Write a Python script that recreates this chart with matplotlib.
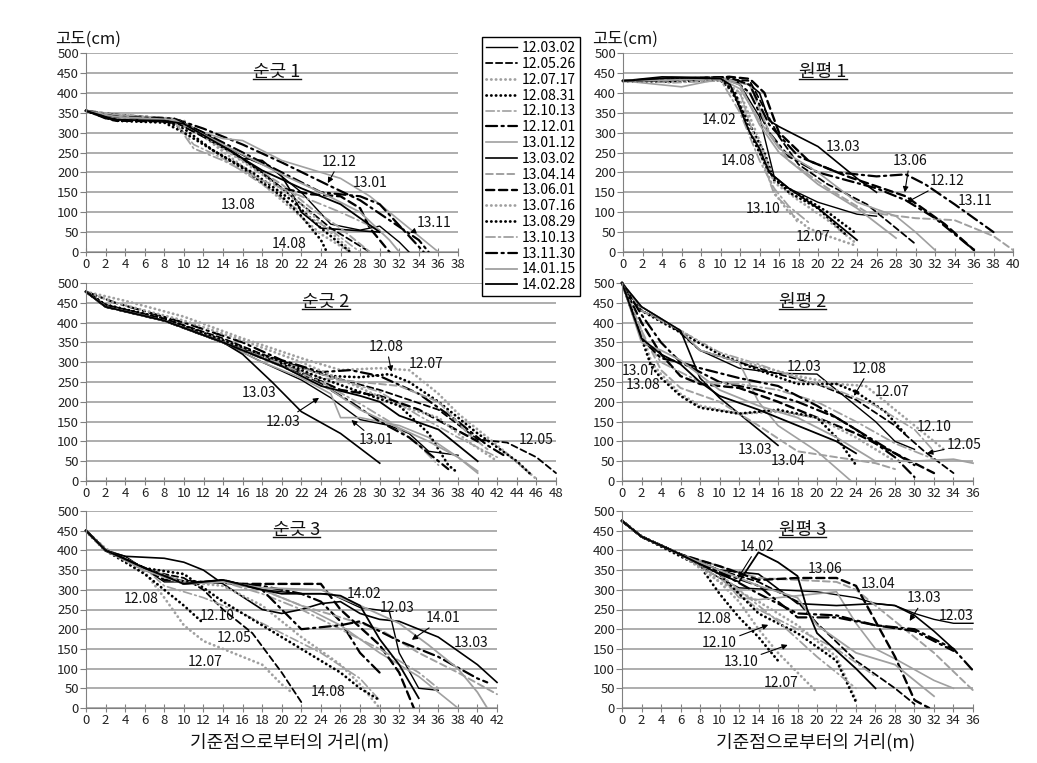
import matplotlib
matplotlib.use('Agg')
import matplotlib.pyplot as plt
from matplotlib.lines import Line2D

plt.rcParams['font.family'] = ['Noto Sans CJK KR', 'DejaVu Sans']

# 측정 날짜 (범례 순서)
DATES = ['12.03.02', '12.05.26', '12.07.17', '12.08.31', '12.10.13', '12.12.01',
         '13.01.12', '13.03.02', '13.04.14', '13.06.01', '13.07.16', '13.08.29',
         '13.10.13', '13.11.30', '14.01.15', '14.02.28']

# 순긋 1 단면 (거리 m, 고도 cm)
SG1 = [
    [(0, 355), (2, 340), (6, 338), (10, 325), (14, 270), (17, 230), (19, 210), (22, 150), (25, 70), (28, 55), (30, 65), (32, 25), (33, 0)],
    [(0, 355), (3, 335), (8, 332), (10, 320), (14, 265), (18, 200), (22, 120), (25, 60), (27, 30), (29, 0)],
    [(0, 355), (3, 342), (8, 335), (10, 330), (12, 290), (16, 215), (20, 130), (24, 45), (27, 0)],
    [(0, 355), (3, 330), (8, 328), (10, 310), (13, 255), (17, 200), (21, 130), (24, 60), (26, 20), (27, 0)],
    [(0, 355), (3, 340), (9, 330), (11, 270), (14, 235), (18, 170), (22, 100), (25, 55), (28, 0)],
    [(0, 355), (3, 345), (9, 335), (12, 310), (16, 270), (20, 225), (25, 165), (28, 130), (31, 80), (34, 30), (35, 0)],
    [(0, 355), (3, 345), (9, 335), (12, 300), (14, 285), (16, 280), (20, 230), (26, 185), (29, 140), (33, 60), (36, 0)],
    [(0, 355), (2, 335), (7, 330), (10, 320), (13, 285), (16, 235), (18, 230), (20, 190), (21, 150), (22, 100), (24, 60), (27, 55), (30, 50)],
    [(0, 355), (3, 338), (9, 328), (12, 290), (16, 230), (20, 170), (23, 110), (26, 60), (28, 20), (29, 0)],
    [(0, 355), (3, 330), (9, 328), (12, 290), (16, 235), (20, 160), (23, 145), (26, 140), (28, 110), (29, 60), (31, 0)],
    [(0, 355), (3, 345), (9, 335), (11, 310), (14, 260), (18, 195), (22, 120), (25, 50), (27, 5)],
    [(0, 355), (3, 330), (8, 325), (10, 300), (12, 270), (16, 210), (20, 140), (22, 90), (24, 30), (24.5, 5)],
    [(0, 355), (3, 338), (9, 330), (11, 260), (14, 230), (18, 180), (22, 140), (26, 100), (30, 55)],
    [(0, 355), (3, 340), (9, 335), (12, 300), (16, 250), (20, 200), (24, 150), (28, 140), (30, 120), (33, 40), (34.5, 0)],
    [(0, 355), (3, 340), (9, 332), (12, 295), (16, 245), (20, 195), (24, 150), (28, 100), (31, 30), (32, 0)],
    [(0, 355), (3, 332), (8, 330), (10, 322), (14, 265), (18, 205), (22, 160), (26, 120), (30, 50)],
]

# 원평 1 단면
WP1 = [
    [(0, 430), (4, 435), (10, 438), (12, 420), (14, 340), (15.5, 190), (17, 160), (20, 125), (24, 95), (26, 90)],
    [(0, 430), (4, 430), (10, 435), (13, 430), (14.5, 360), (16, 290), (18, 220), (21, 170), (25, 120), (28, 60), (30, 20)],
    [(0, 430), (5, 430), (10, 432), (12, 380), (14, 260), (15.5, 150), (17, 100), (19, 60), (21, 40), (24, 15)],
    [(0, 430), (5, 428), (10, 432), (11, 410), (13, 320), (14.5, 250), (15.5, 180), (18, 145), (21, 100), (24, 45)],
    [(0, 432), (5, 425), (10, 430), (12, 400), (14, 250), (15.5, 145), (17, 110), (18, 70)],
    [(0, 430), (5, 435), (11, 440), (13, 400), (15, 300), (17, 240), (20, 200), (26, 160), (29, 130), (32, 85), (36, 5)],
    [(0, 430), (4, 420), (6, 415), (10, 435), (12, 410), (14, 330), (16, 260), (20, 200), (24, 125), (28, 90), (30, 50), (32, 5)],
    [(0, 430), (4, 440), (10, 438), (13, 420), (14, 400), (15, 330), (16, 315), (20, 265), (24, 185), (26, 150)],
    [(0, 428), (5, 432), (10, 438), (13, 420), (15, 300), (17, 230), (21, 160), (25, 100), (30, 85), (34, 80), (38, 40), (40, 5)],
    [(0, 430), (5, 435), (11, 440), (13, 435), (14.5, 400), (16, 300), (19, 230), (23, 190), (26, 165), (29, 140), (33, 70), (36, 5)],
    [(0, 430), (5, 432), (10, 435), (12, 400), (14, 280), (15.5, 175), (18, 130), (21, 80), (24, 20)],
    [(0, 430), (5, 430), (10, 435), (11.5, 400), (13, 300), (14, 250), (15, 200), (17, 150), (20, 110), (23, 40)],
    [(0, 432), (5, 430), (10, 433), (12, 350), (14, 230), (15.5, 160), (17, 115), (19, 75)],
    [(0, 430), (5, 432), (11, 438), (13, 420), (15, 320), (18, 240), (22, 200), (26, 190), (29, 195), (31, 170), (34, 120), (38, 50)],
    [(0, 430), (5, 432), (10, 436), (12, 420), (14, 320), (16, 250), (20, 170), (24, 110), (28, 35)],
    [(0, 430), (5, 438), (10, 436), (11, 420), (13, 300), (14, 260), (15, 200), (17, 160), (20, 110), (22, 70), (24, 30)],
]

# 순긋 2 단면
SG2 = [
    [(0, 478), (2, 440), (8, 405), (14, 350), (18, 300), (22, 255), (25, 210), (28, 155), (31, 140), (33, 120), (35, 75), (38, 65)],
    [(0, 478), (2, 445), (8, 410), (14, 360), (18, 320), (24, 270), (30, 230), (36, 180), (40, 105), (43, 97), (46, 60), (48, 20)],
    [(0, 478), (4, 455), (10, 415), (16, 360), (22, 310), (26, 280), (30, 285), (33, 280), (36, 220), (38, 170), (42, 90), (46, 5)],
    [(0, 478), (2, 445), (8, 410), (14, 355), (20, 300), (25, 265), (28, 262), (31, 270), (33, 250), (36, 200), (40, 120), (44, 50), (45.5, 15)],
    [(0, 478), (2, 440), (8, 405), (14, 350), (20, 300), (26, 255), (30, 225), (34, 165), (38, 110), (42, 60)],
    [(0, 478), (3, 450), (10, 400), (16, 350), (20, 305), (24, 275), (27, 280), (30, 265), (34, 220), (38, 150), (41, 90), (43, 60)],
    [(0, 478), (2, 440), (8, 405), (14, 350), (18, 300), (22, 260), (25, 220), (26, 160), (28, 160), (32, 140), (35, 110), (38, 60), (40, 25)],
    [(0, 478), (2, 440), (8, 405), (14, 350), (16, 320), (19, 250), (22, 175), (26, 120), (30, 45)],
    [(0, 478), (2, 442), (8, 405), (14, 355), (20, 295), (24, 260), (28, 250), (32, 240), (36, 200), (39, 120), (41, 80)],
    [(0, 478), (2, 440), (8, 405), (14, 350), (20, 295), (26, 230), (30, 215), (34, 180), (37, 140), (40, 100)],
    [(0, 478), (3, 450), (10, 405), (16, 355), (22, 300), (28, 235), (32, 190), (36, 160), (39, 100), (42, 50)],
    [(0, 478), (2, 445), (8, 410), (14, 355), (20, 300), (24, 260), (28, 225), (32, 190), (35, 120), (37, 40), (38, 20)],
    [(0, 478), (2, 440), (8, 405), (14, 350), (20, 295), (24, 250), (28, 195), (31, 150), (34, 90), (36, 40)],
    [(0, 478), (2, 440), (8, 405), (14, 350), (20, 290), (24, 245), (27, 200), (30, 150), (33, 110), (35, 70), (37, 30)],
    [(0, 478), (2, 440), (8, 405), (14, 350), (20, 290), (25, 230), (28, 180), (31, 145), (35, 100), (38, 60), (40, 20)],
    [(0, 478), (2, 440), (8, 405), (14, 350), (20, 290), (24, 240), (28, 215), (30, 200), (32, 165), (36, 130), (40, 50)],
]

# 원평 2 단면
WP2 = [
    [(0, 500), (2, 440), (4, 410), (6, 375), (8, 330), (12, 285), (16, 272), (20, 270), (22, 230), (26, 150), (28, 100), (30, 80)],
    [(0, 500), (2, 430), (5, 395), (8, 330), (12, 300), (16, 270), (20, 245), (24, 205), (28, 140), (31, 75), (34, 20)],
    [(0, 500), (2, 430), (6, 380), (10, 320), (14, 290), (18, 265), (22, 245), (25, 240), (27, 200), (30, 140), (33, 80)],
    [(0, 500), (2, 430), (6, 375), (10, 320), (14, 280), (18, 245), (22, 245), (24, 225), (27, 175), (29, 120)],
    [(0, 500), (2, 430), (6, 380), (10, 325), (14, 295), (18, 260), (22, 230), (26, 190), (30, 130), (32, 75)],
    [(0, 500), (2, 420), (4, 350), (6, 300), (10, 250), (14, 230), (18, 200), (22, 160), (26, 100), (30, 40)],
    [(0, 500), (2, 440), (6, 380), (8, 330), (12, 300), (13, 250), (14, 200), (16, 140), (20, 75), (23.5, 0)],
    [(0, 500), (2, 440), (4, 410), (6, 380), (7, 320), (8, 260), (10, 210), (12, 170), (14, 130), (16, 90)],
    [(0, 500), (2, 380), (4, 280), (6, 235), (10, 200), (14, 140), (18, 75), (22, 60), (26, 45), (28, 30)],
    [(0, 500), (2, 400), (4, 320), (6, 265), (8, 245), (12, 235), (16, 200), (20, 160), (24, 120), (28, 70), (32, 20)],
    [(0, 500), (2, 380), (3, 300), (4, 270), (6, 220), (8, 190), (12, 170), (16, 175), (20, 160), (24, 110), (28, 50)],
    [(0, 500), (2, 360), (3, 290), (4, 260), (6, 215), (8, 185), (12, 170), (16, 180), (20, 160), (22, 110), (24, 40)],
    [(0, 500), (2, 370), (4, 300), (8, 250), (12, 245), (16, 230), (20, 200), (24, 150), (28, 95), (32, 55)],
    [(0, 500), (2, 360), (4, 310), (6, 300), (8, 285), (12, 260), (16, 240), (20, 190), (24, 130), (28, 60), (30, 10)],
    [(0, 500), (2, 350), (4, 330), (6, 305), (10, 230), (14, 190), (18, 160), (22, 110), (26, 50), (30, 50), (34, 55), (36, 45)],
    [(0, 500), (2, 360), (4, 320), (6, 295), (8, 250), (10, 215), (14, 180), (18, 140), (22, 100), (24, 70)],
]

# 순긋 3 단면
SG3 = [
    [(0, 450), (2, 400), (4, 385), (8, 320), (12, 320), (14, 325), (18, 300), (22, 290), (25, 290), (28, 255), (31, 245), (32, 140), (34, 50), (36, 45)],
    [(0, 450), (2, 400), (6, 350), (10, 330), (12, 300), (14, 250), (17, 190), (20, 90), (22, 15)],
    [(0, 450), (2, 405), (6, 345), (8, 280), (10, 210), (12, 170), (16, 130), (18, 110), (20, 60), (21, 40)],
    [(0, 450), (2, 400), (6, 340), (8, 300), (10, 260), (12, 215)],
    [(0, 450), (2, 405), (6, 355), (8, 310), (12, 280), (16, 240), (20, 190), (24, 140), (28, 75), (30, 20)],
    [(0, 450), (2, 400), (6, 355), (10, 320), (14, 320), (18, 310), (22, 290), (24, 270), (26, 220), (28, 140), (30, 90)],
    [(0, 450), (2, 400), (6, 355), (10, 315), (14, 320), (18, 300), (22, 260), (26, 210), (30, 140), (34, 80), (38, 0)],
    [(0, 450), (2, 400), (4, 385), (8, 380), (10, 370), (12, 350), (14, 315), (18, 250), (20, 240), (22, 250), (24, 265), (26, 270), (28, 240), (30, 225), (32, 220), (36, 180), (40, 110), (42, 65)],
    [(0, 450), (2, 400), (6, 355), (10, 320), (14, 320), (18, 300), (22, 260), (26, 230), (30, 200), (34, 140), (38, 90), (42, 35)],
    [(0, 450), (2, 400), (6, 355), (8, 325), (12, 320), (16, 315), (20, 315), (24, 315), (26, 250), (30, 160), (32, 90), (33.5, 0)],
    [(0, 450), (2, 400), (6, 350), (10, 320), (14, 310), (18, 260), (22, 180), (26, 110), (28, 60), (30, 0)],
    [(0, 450), (2, 400), (6, 355), (10, 340), (14, 270), (18, 210), (22, 150), (26, 90), (28, 50), (30, 20)],
    [(0, 450), (2, 400), (6, 350), (10, 315), (14, 320), (18, 290), (22, 250), (26, 200), (30, 150), (34, 90), (36, 50)],
    [(0, 450), (2, 400), (6, 355), (10, 315), (14, 325), (18, 300), (22, 200), (26, 210), (28, 220), (32, 170), (36, 130), (40, 75), (41, 65)],
    [(0, 450), (2, 400), (6, 350), (10, 315), (14, 320), (18, 305), (24, 300), (28, 260), (32, 215), (35, 160), (38, 100), (40, 40), (41, 0)],
    [(0, 450), (2, 400), (6, 355), (10, 315), (14, 325), (18, 300), (20, 290), (24, 290), (26, 285), (28, 260), (30, 175), (32, 110), (34, 25)],
]

# 원평 3 단면
WP3 = [
    [(0, 475), (2, 435), (6, 390), (10, 330), (12, 305), (16, 300), (20, 295), (24, 280), (26, 265), (28, 260), (30, 240), (32, 225), (34, 215), (36, 215)],
    [(0, 475), (2, 435), (6, 390), (10, 350), (14, 320), (18, 270), (20, 215), (24, 120), (28, 50), (30, 10)],
    [(0, 475), (2, 435), (6, 390), (8, 360), (10, 320), (12, 270), (14, 200), (16, 140), (18, 90), (20, 40)],
    [(0, 475), (2, 435), (6, 385), (8, 360), (10, 290), (12, 230), (14, 180), (16, 120)],
    [(0, 475), (2, 435), (6, 390), (10, 330), (14, 250), (18, 200), (22, 150), (26, 80)],
    [(0, 475), (2, 435), (6, 390), (10, 345), (14, 290), (18, 240), (22, 235), (26, 210), (30, 200), (34, 150), (36, 95)],
    [(0, 475), (2, 435), (6, 390), (10, 340), (12, 280), (14, 275), (18, 285), (22, 295), (24, 215), (26, 150), (28, 125), (32, 70), (34, 50)],
    [(0, 475), (2, 435), (6, 390), (10, 350), (14, 340), (18, 265), (22, 260), (26, 265), (28, 260), (30, 235), (32, 195), (34, 150)],
    [(0, 475), (2, 435), (6, 390), (10, 360), (14, 330), (18, 325), (22, 320), (24, 300), (28, 220), (32, 140), (36, 45)],
    [(0, 475), (2, 435), (6, 390), (10, 360), (14, 325), (18, 330), (22, 330), (24, 310), (26, 220), (28, 130), (30, 20), (31.5, 0)],
    [(0, 475), (2, 435), (6, 390), (10, 320), (14, 270), (18, 210), (22, 130), (24, 20)],
    [(0, 475), (2, 435), (6, 390), (10, 340), (14, 240), (18, 190), (22, 120), (24, 15)],
    [(0, 475), (2, 435), (6, 390), (10, 340), (14, 260), (16, 220), (20, 130), (24, 50)],
    [(0, 475), (2, 435), (6, 390), (10, 345), (14, 310), (18, 230), (22, 230), (26, 210), (30, 195), (34, 145)],
    [(0, 475), (2, 435), (6, 390), (10, 350), (14, 310), (18, 280), (20, 210), (24, 140), (28, 110), (32, 30)],
    [(0, 475), (2, 435), (6, 390), (10, 340), (12, 320), (14, 395), (16, 370), (18, 335), (19, 250), (20, 190), (24, 100), (26, 50)],
]

# 라벨 (텍스트, 글자 x, 글자 y, 화살표 x, 화살표 y)
SG1_NOTES = [('12.12', 25.9, 226, 24.7, 173), ('13.01', 29, 173, None, None),
             ('13.08', 15.5, 118, None, None), ('13.11', 35.6, 73, 33.1, 48),
             ('14.08', 20.8, 20, None, None)]
WP1_NOTES = [('14.02', 9.9, 332, None, None), ('13.03', 22.6, 265, None, None),
             ('14.08', 11.8, 228, None, None), ('13.06', 29.4, 228, 28.9, 150),
             ('12.12', 33.2, 178, 29.1, 125), ('13.11', 36.1, 128, None, None),
             ('13.10', 14.4, 107, None, None), ('12.07', 19.5, 37, None, None)]
SG2_NOTES = [('12.08', 30.7, 338, 31.2, 276), ('12.07', 34.7, 295, None, None),
             ('13.03', 17.7, 223, None, None), ('12.03', 20.1, 150, 23.8, 210),
             ('13.01', 29.6, 103, 27.1, 154), ('12.05', 46, 103, None, None)]
WP2_NOTES = [('13.07', 1.7, 277, None, None), ('13.08', 2.2, 243, None, None),
             ('12.03', 18.7, 289, None, None), ('12.08', 25.4, 283, 23.8, 215),
             ('12.07', 27.7, 224, None, None), ('12.10', 32, 136, None, None),
             ('12.05', 35.1, 91, 31.3, 70), ('13.03', 13.6, 78, None, None),
             ('13.04', 17, 51, None, None)]
SG3_NOTES = [('12.08', 5.6, 276, None, None), ('12.10', 13.4, 234, None, None),
             ('12.05', 15.1, 177, None, None), ('12.07', 12.2, 118, None, None),
             ('14.08', 24.7, 40, None, None), ('14.02', 28.4, 289, None, None),
             ('12.03', 31.8, 253, None, None), ('14.01', 36.5, 228, 33.3, 173),
             ('13.03', 39.3, 164, None, None)]
WP3_NOTES = [('14.02', 13.9, 409, 11.9, 330), ('13.06', 20.8, 353, None, None),
             ('13.04', 26.3, 314, None, None), ('13.03', 31, 278, 29.5, 221),
             ('12.03', 34.3, 234, None, None), ('12.08', 9.5, 226, None, None),
             ('12.10', 10, 164, 15, 211), ('13.10', 12.2, 118, 17, 160),
             ('12.07', 16.3, 63, None, None)]

GRAY = '#a0a0a0'
DOT = (0, (0.1, 1.6))
DASH = (0, (3.5, 2))
DASHDOT = (0, (5, 2, 1, 2))
# (색, 선종류, 굵기) 범례 순서
STYLES = [('black', '-', 1.0), ('black', DASH, 1.3), (GRAY, DOT, 2.0), ('black', DOT, 2.0),
          (GRAY, DASHDOT, 1.2), ('black', DASHDOT, 1.6), (GRAY, '-', 1.2), ('black', '-', 1.2),
          (GRAY, DASH, 1.4), ('black', DASH, 1.7), (GRAY, DOT, 2.0), ('black', DOT, 2.0),
          (GRAY, DASHDOT, 1.3), ('black', DASHDOT, 1.6), (GRAY, '-', 1.3), ('black', '-', 1.3)]

W, H = 1037, 763
fig = plt.figure(figsize=(W / 100, H / 100), dpi=100)
fig.patch.set_facecolor('white')

# (이름, 데이터, 라벨, x최대, 좌, 우, 상, 하 픽셀)
panels = [
    ('순긋 1', SG1, SG1_NOTES, 38, 86, 458, 53, 252),
    ('원평 1', WP1, WP1_NOTES, 40, 623, 1013, 53, 252),
    ('순긋 2', SG2, SG2_NOTES, 48, 86, 556, 283, 481),
    ('원평 2', WP2, WP2_NOTES, 36, 622, 973, 283, 481),
    ('순긋 3', SG3, SG3_NOTES, 42, 86, 497, 511, 708),
    ('원평 3', WP3, WP3_NOTES, 36, 622, 973, 511, 708),
]

titles = []
handles = []
for name, profiles, notes, xmax, l, r, t, b in panels:
    ax = fig.add_axes([l / W, 1 - b / H, (r - l) / W, (b - t) / H])
    ax.set_xlim(0, xmax)
    ax.set_ylim(0, 500)
    ax.set_xticks(range(0, xmax + 1, 2))
    ax.set_yticks(range(0, 501, 50))
    ax.yaxis.grid(True, color=GRAY, lw=1.2)
    ax.set_axisbelow(True)
    for s in ['top', 'right']:
        ax.spines[s].set_visible(False)
    for s in ['left', 'bottom']:
        ax.spines[s].set_color('#808080')
    ax.tick_params(axis='x', direction='inout', length=6, color='#808080', labelsize=9.5, pad=1, labelcolor='#222222')
    ax.tick_params(axis='y', direction='out', length=4, color='#808080', labelsize=9.5, pad=1, labelcolor='#222222')

    hs = []
    for pts, (c, ls, lw) in zip(profiles, STYLES):
        xs = [p[0] for p in pts]
        ys = [p[1] for p in pts]
        ln, = ax.plot(xs, ys, color=c, ls=ls, lw=lw, dash_capstyle='round', clip_on=False)
        hs.append(ln)
    if not handles:
        handles = hs

    for txt, tx, ty, axx, axy in notes:
        if axx is None:
            ax.text(tx, ty, txt, ha='center', va='center', fontsize=10, color='#111111')
        else:
            ax.annotate(txt, xy=(axx, axy), xytext=(tx, ty), ha='center', va='center',
                        fontsize=10, color='#111111',
                        arrowprops=dict(arrowstyle='-|>', color='black', lw=0.8,
                                        mutation_scale=8, shrinkA=0, shrinkB=0))

    tt = ax.text(0.5 * xmax + 0.5, 452, name, ha='center', va='center', fontsize=13, color='#111111')
    titles.append(tt)

fig.text(55 / W, 1 - 39 / H, '고도(cm)', fontsize=12, ha='left', va='center', color='#111111')
fig.text(592 / W, 1 - 39 / H, '고도(cm)', fontsize=12, ha='left', va='center', color='#111111')
fig.text(290 / W, 1 - 742 / H, '기준점으로부터의 거리(m)', fontsize=13, ha='center', va='center', color='#111111')
fig.text(816 / W, 1 - 742 / H, '기준점으로부터의 거리(m)', fontsize=13, ha='center', va='center', color='#111111')

leg = fig.legend(handles, DATES, loc='upper left', bbox_to_anchor=(482 / W, 1 - 37 / H),
                 frameon=True, fancybox=False, edgecolor='black', framealpha=1,
                 fontsize=10, handlelength=2.2, handletextpad=0.35, labelspacing=0.13,
                 borderpad=0.3, borderaxespad=0)
leg.get_frame().set_linewidth(1.0)

# 제목 밑줄
fig.canvas.draw()
rend = fig.canvas.get_renderer()
inv = fig.transFigure.inverted()
for tt in titles:
    bb = tt.get_window_extent(rend)
    (x0, y0), (x1, _) = inv.transform([(bb.x0, bb.y0 + 2), (bb.x1, bb.y0 + 2)])
    fig.add_artist(Line2D([x0, x1], [y0, y0], color='#111111', lw=1.0, transform=fig.transFigure))

fig.savefig('out.png', dpi=100, facecolor='white')
